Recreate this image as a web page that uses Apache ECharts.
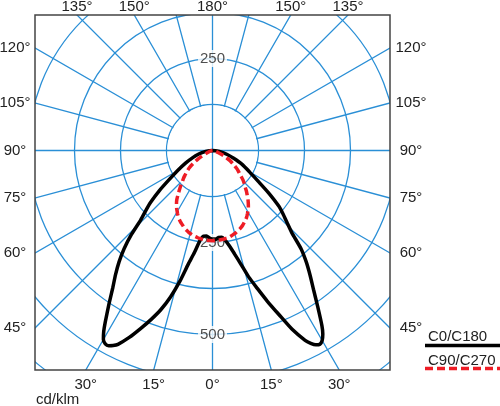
<!DOCTYPE html>
<html>
<head>
<meta charset="utf-8">
<script src="https://cdn.jsdelivr.net/npm/echarts@6/dist/echarts.min.js"></script>
<style>
  html, body { margin: 0; padding: 0; background: #fff; }
  #chart { width: 500px; height: 406px; }
</style>
</head>
<body>
<div id="chart"></div>
<script>
// gamma angles (deg from nadir) and intensities in cd/klm
const gamma = [0, 2, 4, 6, 8, 10, 12, 14, 16, 18, 20, 22, 24, 26, 27, 28, 29, 30, 31, 32,
  34, 36, 38, 40, 42, 44, 46, 48, 50, 53, 56, 60, 65, 70, 75, 80, 85, 90];
const c0 = [243, 242, 237, 237, 246, 263, 287, 318, 358, 394, 436, 480, 532, 574, 588, 598, 602, 596, 582, 561,
  511, 467, 431, 397, 360, 310, 281, 258, 235, 190, 150, 116, 88, 60, 40, 25, 12, 0];
const c180 = [243, 238, 233, 234, 248, 281, 315, 366, 414, 455, 489, 522, 556, 586, 595, 601, 601, 593, 574, 550,
  503, 461, 428, 395, 359, 317, 271, 244, 220, 180, 143, 110, 80, 57, 40, 25, 12, 0];
const c90 = [245, 245, 244, 243, 242, 240, 238, 235, 232, 228, 224, 218, 213, 207, 204, 200, 196, 192, 188, 184,
  175, 165, 152, 140, 129, 118, 110, 101, 92, 80, 64, 44, 20, 10, 5, 2, 1, 0];
const c270 = [245, 244, 244, 243, 242, 241, 238, 235, 232, 228, 224, 219, 213, 207, 204, 200, 196, 192, 188, 184,
  174, 164, 153, 143, 132, 124, 115, 104, 95, 84, 70, 55, 33, 16, 8, 3, 1, 0];

const radiusTicks = [250, 500];
const angleTicks = [0, 15, 30, 45, 60, 75, 90, 105, 120, 135, 150, 180];
const unitLabel = 'cd/klm';
const legendNames = ['C0/C180', 'C90/C270'];

const CX = 212.5, CY = 150.5;
const L = 35, T = 15, R = 390, B = 370;
const FAMILY = '"Liberation Sans", Arial, sans-serif';
const FONT = '15px ' + FAMILY;
const GRID = '#2a8fd6';

// left half (C180 / C90) sits at angle = gamma, right half (C0 / C270) at 360 - gamma
function closedCurve(leftVals, rightVals) {
  const pts = [];
  for (let i = gamma.length - 1; i >= 0; i--) pts.push([leftVals[i], gamma[i]]);
  for (let i = 0; i < gamma.length; i++) pts.push([rightVals[i], 360 - gamma[i]]);
  return pts;
}

function edgeLabel(deg, txt) {
  const rad = deg * Math.PI / 180;
  const dx = -Math.sin(rad), dy = Math.cos(rad);
  const tx = dx < -1e-9 ? (L - CX) / dx : dx > 1e-9 ? (R - CX) / dx : Infinity;
  const ty = dy < -1e-9 ? (T - CY) / dy : dy > 1e-9 ? (B - CY) / dy : Infinity;
  let x, y;
  if (tx < ty) {
    y = CY + dy * tx;
    x = dx < 0 ? L - 20 : R + 21;
  } else {
    x = CX + dx * ty;
    y = dy < 0 ? T - 8 : B + 15;
  }
  return {
    type: 'text', x: x, y: y, z: 30,
    style: { text: txt, font: FONT, fill: '#222', align: 'center', verticalAlign: 'middle' }
  };
}

const graphics = [
  // inner disc: radial lines start at the first ring
  { type: 'circle', z: 1, shape: { cx: CX, cy: CY, r: 45.2 }, style: { fill: '#fff' } },
  // white masks clip the polar grid to the frame
  { type: 'rect', z: 10, shape: { x: 0, y: 0, width: 500, height: T }, style: { fill: '#fff' } },
  { type: 'rect', z: 10, shape: { x: 0, y: B, width: 500, height: 406 - B }, style: { fill: '#fff' } },
  { type: 'rect', z: 10, shape: { x: 0, y: 0, width: L, height: 406 }, style: { fill: '#fff' } },
  { type: 'rect', z: 10, shape: { x: R, y: 0, width: 500 - R, height: 406 }, style: { fill: '#fff' } },
  { type: 'rect', z: 20, shape: { x: L, y: T, width: R - L, height: B - T },
    style: { fill: 'none', stroke: '#444', lineWidth: 1.5 } },
  { type: 'text', z: 30, x: 36, y: 400,
    style: { text: unitLabel, font: FONT, fill: '#222', align: 'left', verticalAlign: 'middle' } },
  // legend
  { type: 'text', z: 30, x: 428, y: 337,
    style: { text: legendNames[0], font: FONT, fill: '#222', align: 'left', verticalAlign: 'middle' } },
  { type: 'line', z: 30, shape: { x1: 425, y1: 345.5, x2: 500, y2: 345.5 },
    style: { stroke: '#000', lineWidth: 3.5 } },
  { type: 'text', z: 30, x: 428, y: 361,
    style: { text: legendNames[1], font: FONT, fill: '#222', align: 'left', verticalAlign: 'middle' } },
  { type: 'line', z: 30, shape: { x1: 425, y1: 368.5, x2: 500, y2: 368.5 },
    style: { stroke: '#ee1c25', lineWidth: 3.5, lineDash: [8, 4] } }
];
angleTicks.forEach(a => {
  graphics.push(edgeLabel(a, a + '°'));
  if (a !== 0 && a !== 180) graphics.push(edgeLabel(360 - a, a + '°'));
});

const chart = echarts.init(document.getElementById('chart'), null, { renderer: 'canvas' });
chart.setOption({
  animation: false,
  polar: [
    { center: [CX, CY], radius: [0, 322] },
    { center: [CX, CY], radius: [0, 46] }
  ],
  angleAxis: [
    {
      polarIndex: 0, type: 'value', min: 0, max: 360, interval: 15, startAngle: 270, clockwise: true,
      axisLine: { show: false }, axisTick: { show: false }, axisLabel: { show: false },
      splitLine: { show: true, lineStyle: { color: GRID, width: 1.3 } }
    },
    {
      polarIndex: 1, type: 'value', min: 0, max: 360, interval: 90, startAngle: 270, clockwise: true, z: 2,
      axisLine: { show: false }, axisTick: { show: false }, axisLabel: { show: false },
      splitLine: { show: true, lineStyle: { color: GRID, width: 1.3 } }
    }
  ],
  radiusAxis: [
    {
      polarIndex: 0, type: 'value', min: 0, max: 875, interval: 125,
      axisLine: { show: false }, axisTick: { show: false }, axisLabel: { show: false },
      splitLine: { show: true, lineStyle: { color: GRID, width: 1.3 } }
    },
    {
      polarIndex: 1, type: 'value', min: 0, max: 125, show: false,
      splitLine: { show: false }
    }
  ],
  graphic: graphics,
  series: [
    {
      type: 'scatter', coordinateSystem: 'polar', polarIndex: 0, z: 2,
      symbolSize: 0, silent: true,
      data: [[radiusTicks[0], 180]].concat(radiusTicks.map(v => [v, 0])),
      label: {
        show: true, position: 'inside', formatter: p => String(p.value[0]),
        fontSize: 15, fontFamily: FAMILY, color: '#222', backgroundColor: '#fff', padding: [1, 2]
      }
    },
    {
      name: legendNames[0], type: 'line', coordinateSystem: 'polar', polarIndex: 0, z: 3,
      clip: false, showSymbol: false, smooth: 0.2,
      data: closedCurve(c180, c0),
      lineStyle: { color: '#000', width: 3.5 }
    },
    {
      name: legendNames[1], type: 'line', coordinateSystem: 'polar', polarIndex: 0, z: 4,
      clip: false, showSymbol: false, smooth: 0.2,
      data: closedCurve(c90, c270),
      lineStyle: { color: '#ee1c25', width: 3.5, type: [8, 4] }
    }
  ]
});
</script>
</body>
</html>
